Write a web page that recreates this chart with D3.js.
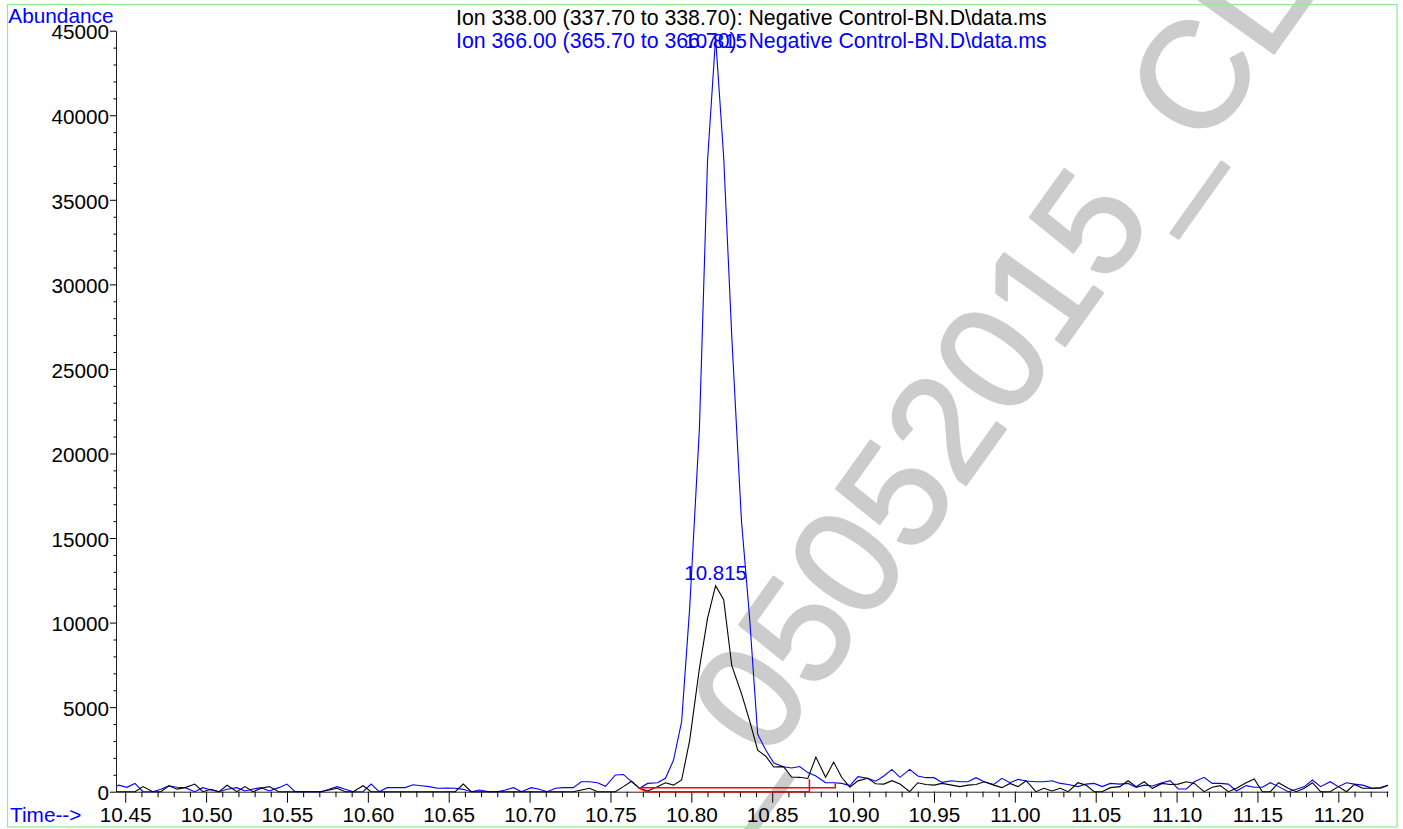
<!DOCTYPE html>
<html><head><meta charset="utf-8">
<script src="https://cdn.jsdelivr.net/npm/d3@7"></script>
<style>
html,body{margin:0;padding:0;background:#fff;}
svg{display:block;font-family:"Liberation Sans",Arial,Helvetica,sans-serif;}
</style>
</head><body>
<svg id="c" width="1403" height="829"></svg>
<script>
// ---- data ----
const times = [
10.441,10.446,10.451,10.456,10.461,10.467,10.472,10.477,10.482,10.487,
10.493,10.498,10.503,10.508,10.513,10.519,10.524,10.529,10.534,10.539,
10.545,10.550,10.555,10.560,10.565,10.571,10.576,10.581,10.586,10.591,
10.597,10.602,10.607,10.612,10.617,10.623,10.628,10.633,10.638,10.643,
10.649,10.654,10.659,10.664,10.669,10.675,10.680,10.685,10.690,10.695,
10.701,10.706,10.711,10.716,10.721,10.727,10.732,10.737,10.742,10.747,
10.753,10.758,10.763,10.768,10.773,10.779,10.784,10.789,10.794,10.799,
10.805,10.810,10.815,10.820,10.825,10.831,10.836,10.841,10.846,10.851,
10.857,10.862,10.867,10.872,10.877,10.883,10.888,10.893,10.898,10.903,
10.909,10.914,10.919,10.924,10.929,10.935,10.940,10.945,10.950,10.955,
10.961,10.966,10.971,10.976,10.981,10.987,10.992,10.997,11.002,11.007,
11.013,11.018,11.023,11.028,11.033,11.039,11.044,11.049,11.054,11.059,
11.065,11.070,11.075,11.080,11.085,11.091,11.096,11.101,11.106,11.111,
11.117,11.122,11.127,11.132,11.137,11.143,11.148,11.153,11.158,11.163,
11.169,11.174,11.179,11.184,11.189,11.195,11.200,11.205,11.210,11.215,
11.221,11.226,11.231];

// Ion 366.00 (blue)
const ion366 = [
150,390,260,490,0,0,140,350,260,240,
0,240,100,0,140,240,40,160,240,40,
240,450,0,0,0,0,140,300,140,0,
0,450,0,240,240,240,410,350,300,200,
220,200,140,0,100,0,0,100,240,0,
240,140,0,200,240,240,590,590,530,320,
990,1020,600,200,490,530,790,1870,4150,10900,
21500,37300,44600,37500,26900,16000,10300,3400,2460,1690,
1480,1400,1490,1130,930,530,530,490,360,890,
790,620,930,1320,850,1320,930,830,830,550,
650,590,590,830,590,430,790,530,730,630,
590,590,650,490,430,300,450,490,300,490,
450,490,260,390,340,530,650,160,160,590,
850,490,490,450,40,360,260,260,530,300,
0,140,300,690,300,590,300,530,450,390,
200,250,390];

// Ion 338.00 (black)
const ion338 = [
0,0,0,0,300,0,0,350,150,240,
450,0,140,0,380,0,300,0,200,300,
0,0,0,0,0,0,100,200,0,0,
350,0,0,0,0,0,0,0,0,0,
0,0,450,0,0,0,0,0,0,0,
0,0,0,0,0,0,100,200,0,0,
0,300,620,200,40,300,530,390,690,3050,
7300,10250,12180,11350,7450,5800,4200,2450,2100,1460,
1480,870,850,780,2050,850,1750,840,270,640,
790,470,450,650,450,0,530,430,390,490,
390,300,390,430,590,390,240,490,300,650,
0,200,40,200,0,530,390,0,0,240,
300,650,300,590,200,490,430,450,590,490,
0,260,360,0,200,530,750,0,0,530,
200,0,200,530,0,0,300,0,430,200,
200,200,390];

const xTickValues = [10.45,10.50,10.55,10.60,10.65,10.70,10.75,10.80,10.85,10.90,10.95,11.00,11.05,11.10,11.15,11.20];
const yTickValues = [0,5000,10000,15000,20000,25000,30000,35000,40000,45000];
const peakLabel = "10.815";
const peakTime = 10.815;
const ion338Apex = 12180;
// integration baselines (red)
const baselineA = [[10.767,240],[10.889,240],[10.889,500]];
const baselineB = [[10.767,240],[10.7724,0],[10.873,0],[10.873,730]];
const titleLines = [
  "Ion 338.00 (337.70 to 338.70): Negative Control-BN.D\\data.ms",
  "Ion 366.00 (365.70 to 366.70): Negative Control-BN.D\\data.ms"];
const watermark = "_05052015_CL";

// ---- drawing ----
const svg = d3.select("#c");
const x = d3.scaleLinear().domain([10.4443, 11.2307]).range([116, 1388]);
const y = d3.scaleLinear().domain([0, 45000]).range([791.7, 30.7]);

// watermark (behind)
svg.append("text")
  .attr("transform","translate(719.4,830.5) rotate(-54.5)")
  .attr("font-size",150)
  .attr("fill","#cccccc")
  .attr("stroke","#cccccc")
  .attr("stroke-width",2.5)
  .attr("stroke-linejoin","round")
  .text(watermark);

// frame
svg.append("rect").attr("x",7.5).attr("y",4.5).attr("width",1389.5).attr("height",822.5)
  .attr("fill","none").attr("stroke","#8cf08c").attr("stroke-width",1.2);

// axes
const fs = 20.7;
const xMinor = d3.range(10.45, 11.2301, 0.01).filter(v => !xTickValues.some(t => Math.abs(t - v) < 1e-6));
const yMinor = d3.range(0, 45001, 1000).filter(v => v % 5000 !== 0);

const gx = svg.append("g").attr("transform","translate(0,791.7)");
gx.call(d3.axisBottom(x).tickValues(xTickValues).tickFormat(d3.format(".2f"))
  .tickSize(11).tickSizeOuter(0).tickPadding(4.5));
gx.append("g").call(d3.axisBottom(x).tickValues(xMinor).tickFormat("").tickSize(5.5).tickSizeOuter(0))
  .select(".domain").remove();
gx.selectAll("text").attr("font-size",fs).attr("font-family","Liberation Sans, Arial, sans-serif").attr("fill","#000");

const gy = svg.append("g").attr("transform","translate(116,0)");
gy.call(d3.axisLeft(y).tickValues(yTickValues).tickFormat(d3.format("d"))
  .tickSize(6).tickSizeOuter(0).tickPadding(1));
gy.append("g").call(d3.axisLeft(y).tickValues(yMinor).tickFormat("").tickSize(2.5).tickSizeOuter(0))
  .select(".domain").remove();
gy.selectAll("text").attr("font-size",fs).attr("font-family","Liberation Sans, Arial, sans-serif")
  .attr("fill","#000").attr("dy","0.4em");
svg.selectAll(".domain").attr("stroke","#222");

// clip
svg.append("clipPath").attr("id","clip").append("rect")
  .attr("x",116).attr("y",0).attr("width",1388-116).attr("height",800);

const line = d3.line().x((d,i)=>x(times[i])).y(d=>y(d));
const plot = svg.append("g").attr("clip-path","url(#clip)");
plot.append("path").datum(ion366).attr("d",line).attr("fill","none").attr("stroke","#0000ff").attr("stroke-width",1.1);
plot.append("path").datum(ion338).attr("d",line).attr("fill","none").attr("stroke","#000").attr("stroke-width",1.1);

const bl = d3.line().x(d=>x(d[0])).y(d=>y(d[1]));
plot.append("path").datum(baselineA).attr("d",bl).attr("fill","none").attr("stroke","#ff0000").attr("stroke-width",1.5);
plot.append("path").datum(baselineB).attr("d",bl).attr("fill","none").attr("stroke","#ff0000").attr("stroke-width",1.5);

// peak labels
svg.append("text").attr("x",x(peakTime)).attr("y",y(ion338Apex)-5.5).attr("text-anchor","middle")
  .attr("font-size",20.5).attr("fill","#0000ff").text(peakLabel);

// titles
svg.append("text").attr("x",456).attr("y",25).attr("font-size",21.3).attr("fill","#000").text(titleLines[0]);
svg.append("text").attr("x",456).attr("y",48.3).attr("font-size",21.3).attr("fill","#0000ff").text(titleLines[1]);
svg.append("text").attr("x",x(peakTime)).attr("y",48.3).attr("text-anchor","middle")
  .attr("font-size",20.5).attr("fill","#0000ff").text(peakLabel);

// axis titles
svg.append("text").attr("x",8.3).attr("y",23.3).attr("font-size",20.8).attr("fill","#0000ff").text("Abundance");
svg.append("text").attr("x",10).attr("y",822).attr("font-size",20.8).attr("fill","#0000ff").text("Time-->");
</script>
</body></html>
